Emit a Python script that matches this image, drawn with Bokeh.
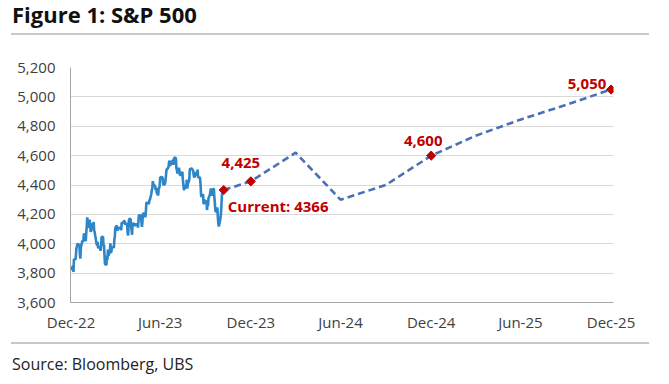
import math
import pandas as pd
from bokeh.plotting import figure
from bokeh.layouts import column
from bokeh.models import (Range1d, FixedTicker, DatetimeTickFormatter, Label, Div,
                          ColumnDataSource, NumeralTickFormatter)
from bokeh.embed import file_html
from bokeh.resources import INLINE

# ---------------- data ----------------
hist_start = "2022-12-30"
hist_end = "2023-11-06"
market_holidays = ["2023-01-02", "2023-01-16", "2023-02-20", "2023-04-07",
                   "2023-05-29", "2023-06-19", "2023-07-04", "2023-09-04"]
hist_close = [
    3839.50,
    3824.14, 3852.97, 3808.10, 3895.08, 3892.09, 3919.25, 3969.61, 3983.17, 3999.09, 3990.97,
    3928.86, 3898.85, 3972.61, 4019.81, 4016.95, 4016.22, 4060.43, 4070.56, 4017.77, 4076.60,
    4119.21, 4179.76, 4136.48, 4111.08, 4164.00, 4117.86, 4081.50, 4090.46, 4137.29, 4136.13,
    4147.60, 4090.41, 4079.09, 3997.34, 3991.05, 4012.32, 3970.04, 3982.24, 3970.15,
    3951.39, 3981.35, 4045.64, 4048.42, 3986.37, 3992.01, 3918.32, 3861.59, 3855.76, 3919.29,
    3891.93, 3960.28, 3916.64, 3951.57, 4002.87, 3936.97, 3948.72, 3970.99, 3977.53, 3971.27,
    4027.81, 4050.83, 4109.31,
    4124.51, 4100.60, 4090.38, 4105.02, 4109.11, 4108.94, 4091.95, 4146.22, 4137.64, 4151.32,
    4154.87, 4154.52, 4129.79, 4133.52, 4137.04, 4071.63, 4055.99, 4135.35, 4169.48,
    4167.87, 4119.58, 4090.75, 4061.22, 4136.25, 4138.12, 4119.17, 4137.64, 4130.62, 4124.08,
    4136.28, 4109.90, 4158.77, 4198.05, 4191.98, 4192.63, 4145.58, 4115.24, 4151.28, 4205.45,
    4205.52, 4179.83,
    4221.02, 4282.37, 4273.79, 4283.85, 4267.52, 4293.93, 4298.86, 4338.93, 4369.01, 4372.59,
    4425.84, 4409.59, 4388.71, 4365.69, 4381.89, 4348.33, 4328.82, 4378.41, 4376.86, 4396.44,
    4450.38,
    4455.59, 4446.82, 4411.59, 4398.95, 4409.53, 4439.26, 4472.16, 4510.04, 4505.42, 4522.79,
    4554.98, 4565.72, 4534.87, 4536.34, 4554.64, 4567.46, 4566.75, 4537.41, 4582.23, 4588.96,
    4576.73, 4513.39, 4501.89, 4478.03, 4518.44, 4499.38, 4467.71, 4468.83, 4464.05, 4489.72,
    4437.86, 4404.33, 4370.36, 4369.71, 4399.77, 4387.55, 4436.01, 4376.31, 4405.71, 4433.31,
    4497.63, 4514.87, 4507.66,
    4515.77, 4496.83, 4465.48, 4451.14, 4457.49, 4487.46, 4461.90, 4467.44, 4505.10, 4450.32,
    4453.53, 4443.95, 4402.20, 4330.00, 4320.06, 4337.44, 4273.53, 4274.51, 4299.70, 4288.05,
    4288.39, 4229.45, 4263.75, 4258.19, 4308.50, 4335.66, 4358.24, 4376.95, 4349.61, 4327.78,
    4373.63, 4373.20, 4314.60, 4278.00, 4224.16, 4217.04, 4247.68, 4186.77, 4137.23, 4117.37,
    4166.82, 4193.80,
    4237.86, 4317.78, 4358.34, 4365.98,
]

fc_dates = ["2023-11-06", "2023-12-31", "2024-03-31", "2024-06-30", "2024-09-30",
            "2024-12-31", "2025-03-31", "2025-06-30", "2025-09-30", "2025-12-31"]
fc_values = [4366, 4425, 4620, 4300, 4400, 4600, 4735, 4845, 4945, 5050]

ann_dates = ["2023-11-06", "2023-12-31", "2024-12-31", "2025-12-31"]
ann_values = [4366, 4425, 4600, 5050]
ann_texts = ["Current: 4366", "4,425", "4,600", "5,050"]

x_tick_dates = ["2022-12-31", "2023-06-30", "2023-12-31", "2024-06-30",
                "2024-12-31", "2025-06-30", "2025-12-31"]
y_ticks = [3600, 3800, 4000, 4200, 4400, 4600, 4800, 5000, 5200]

title_text = "Figure 1: S&amp;P 500"
source_text = "Source: Bloomberg, UBS"

# ---------------- build ----------------
def ms(d):
    return pd.Timestamp(d).value / 1e6

hist_dates = pd.bdate_range(hist_start, hist_end, freq="C", holidays=market_holidays)
hist_src = ColumnDataSource(dict(x=list(hist_dates), y=hist_close))
fc_src = ColumnDataSource(dict(x=[pd.Timestamp(d) for d in fc_dates], y=fc_values))
ann_src = ColumnDataSource(dict(x=[pd.Timestamp(d) for d in ann_dates], y=ann_values))

FONT = "Open Sans"
W = 669
p = figure(width=W, height=306, x_axis_type="datetime", output_backend="svg",
           toolbar_location=None,
           x_range=Range1d(pd.Timestamp("2022-12-30"), pd.Timestamp("2026-01-05")),
           y_range=Range1d(3600, 5200),
           min_border_left=70, min_border_right=56, min_border_top=31, min_border_bottom=40)
p.outline_line_color = None
p.background_fill_color = "white"
p.border_fill_color = "white"

p.xgrid.grid_line_color = None
p.ygrid.grid_line_color = "#d9d9d9"
p.ygrid.grid_line_width = 1

p.yaxis.ticker = FixedTicker(ticks=y_ticks)
p.yaxis.formatter = NumeralTickFormatter(format="0,0")
p.xaxis.ticker = FixedTicker(ticks=[ms(d) for d in x_tick_dates])
p.xaxis.formatter = DatetimeTickFormatter(days="%b-%y", months="%b-%y", years="%b-%y")
for ax in (p.xaxis, p.yaxis):
    ax.axis_line_color = "#a6a6a6"
    ax.axis_line_width = 1
    ax.major_tick_line_color = None
    ax.minor_tick_line_color = None
    ax.major_tick_out = 0
    ax.major_tick_in = 0
    ax.minor_tick_out = 0
    ax.major_label_text_font = FONT
    ax.major_label_text_font_size = "15px"
    ax.major_label_text_color = "#404040"
p.yaxis.major_label_standoff = 15
p.xaxis.major_label_standoff = 9

p.line("x", "y", source=hist_src, line_color="#2e86c8", line_width=2.6)
p.line("x", "y", source=fc_src, line_color="#4a70b5", line_width=2.6, line_dash="7 4")
p.scatter("x", "y", source=ann_src, marker="square", angle=math.pi / 4, size=6.5,
          fill_color="#c00000", line_color="#c00000")

# data labels: (x offset, y offset, align, baseline)
label_style = {
    "Current: 4366": (4, -6, "left", "top"),
    "4,425": (-10, 18, "center", "alphabetic"),
    "4,600": (-8, 15, "center", "alphabetic"),
    "5,050": (-24, 6, "center", "alphabetic"),
}
for d, v, t in zip(ann_dates, ann_values, ann_texts):
    xo, yo, al, bl = label_style[t]
    p.add_layout(Label(x=ms(d), y=v, text=t, x_offset=xo, y_offset=yo,
                       text_align=al, text_baseline=bl, text_font=FONT,
                       text_font_size="15px", text_font_style="bold",
                       text_color="#c00000"))

title_div = Div(
    text=('<div style="margin-left:11px;width:638px;height:35px;box-sizing:border-box;'
          'border-bottom:2px solid #c8c8c8;padding-top:3px;padding-left:1px;'
          "font-family:'Open Sans';font-weight:bold;font-size:22px;line-height:22px;"
          'color:#111111;white-space:nowrap;">' + title_text + '</div>'),
    width=W, height=36, margin=0)
source_div = Div(
    text=('<div style="margin-left:11px;width:638px;height:42px;box-sizing:border-box;'
          'border-top:2px solid #c8c8c8;padding-top:12px;padding-left:1px;'
          "font-family:'Open Sans';font-size:16px;line-height:16px;"
          'color:#222222;white-space:nowrap;">' + source_text + '</div>'),
    width=W, height=42, margin=0)

layout = column(title_div, p, source_div, spacing=0, margin=0)
open("out.html", "w").write(file_html(layout, INLINE))
